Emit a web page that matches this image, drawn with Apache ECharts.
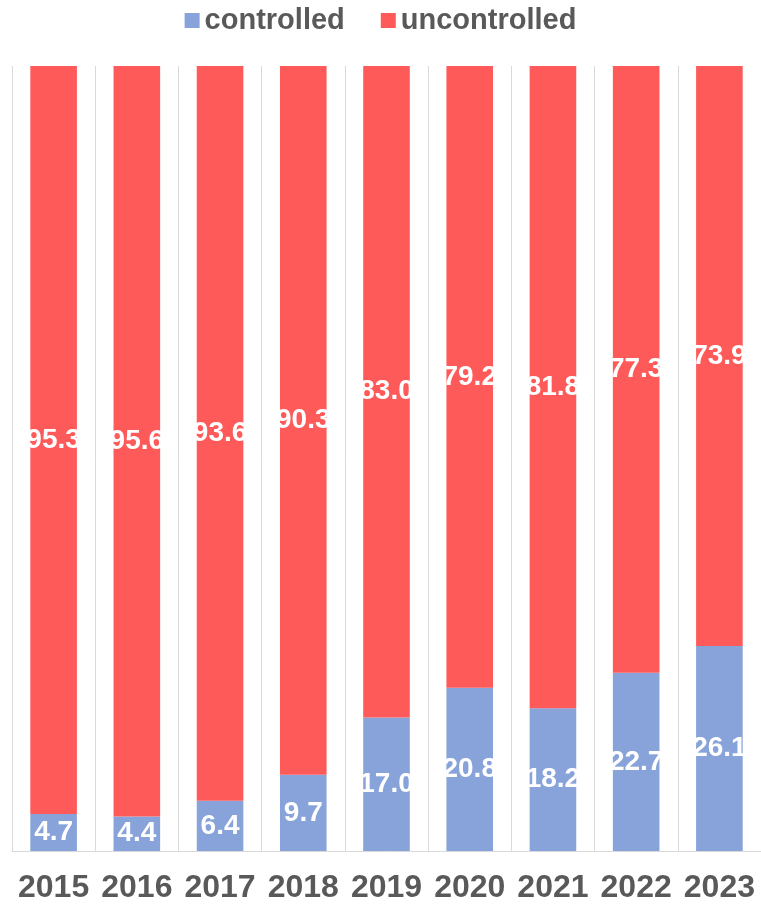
<!DOCTYPE html>
<html>
<head>
<meta charset="utf-8">
<script src="https://cdn.jsdelivr.net/npm/echarts@6/dist/echarts.min.js"></script>
<style>
html,body{margin:0;padding:0;background:#fff;}
#chart{width:761px;height:906px;}
</style>
</head>
<body>
<div id="chart"></div>
<script>
const years = ['2015','2016','2017','2018','2019','2020','2021','2022','2023'];
const controlled = [4.7, 4.4, 6.4, 9.7, 17.0, 20.8, 18.2, 22.7, 26.1];
const uncontrolled = [95.3, 95.6, 93.6, 90.3, 83.0, 79.2, 81.8, 77.3, 73.9];
const seriesNames = ['controlled', 'uncontrolled'];

const chart = echarts.init(document.getElementById('chart'), null, {renderer: 'canvas'});
const labelStyle = {
  show: true,
  position: 'inside',
  color: '#ffffff',
  fontFamily: 'Liberation Sans, Arial, sans-serif',
  fontWeight: 'bold',
  fontSize: 28,
  formatter: p => p.value.toFixed(1)
};
chart.setOption({
  animation: false,
  backgroundColor: '#ffffff',
  legend: {
    top: 1,
    left: 'center',
    itemWidth: 15,
    itemHeight: 15,
    itemGap: 36,
    icon: 'rect',
    textStyle: {
      fontFamily: 'Liberation Sans, Arial, sans-serif',
      fontWeight: 'bold',
      fontSize: 29,
      color: '#595959'
    },
    data: seriesNames
  },
  grid: {left: 12, right: 0, top: 66, bottom: 55, containLabel: false},
  xAxis: {
    type: 'category',
    data: years,
    axisLine: {show: true, lineStyle: {color: '#D9D9D9', width: 1}},
    axisTick: {show: false},
    splitLine: {show: true, lineStyle: {color: '#D9D9D9', width: 1}},
    axisLabel: {
      margin: 21,
      fontFamily: 'Liberation Sans, Arial, sans-serif',
      fontWeight: 'bold',
      fontSize: 32,
      color: '#595959',
      interval: 0
    }
  },
  yAxis: {
    type: 'value',
    min: 0,
    max: 100,
    show: false,
    splitLine: {show: false}
  },
  series: [
    {
      name: seriesNames[0],
      type: 'bar',
      stack: 'total',
      barWidth: '56%',
      data: controlled,
      itemStyle: {color: '#87A3D9'},
      label: labelStyle
    },
    {
      name: seriesNames[1],
      type: 'bar',
      stack: 'total',
      barWidth: '56%',
      data: uncontrolled,
      itemStyle: {color: '#FF5A5A'},
      label: labelStyle
    }
  ]
});
</script>
</body>
</html>
